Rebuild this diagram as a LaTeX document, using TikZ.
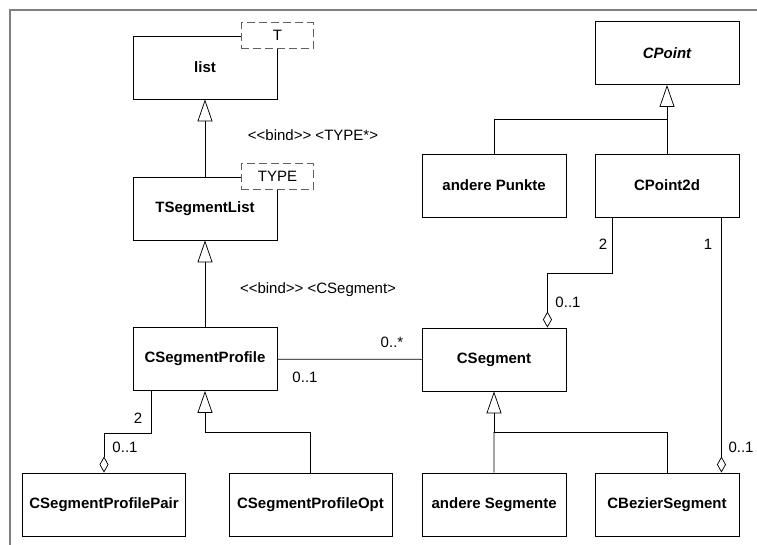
\documentclass[tikz,border=0pt]{standalone}
\usepackage{fontspec}
\setmainfont{Liberation Sans}[Ligatures=TeXOff]
\usepackage{tikz}
\usetikzlibrary{arrows.meta, positioning}

\begin{document}
\begin{tikzpicture}[
  x=1pt, y=-1pt,
  node distance=28pt,
  cls/.style={draw, fill=white, minimum width=144pt, minimum height=63pt,
              align=center, font=\fontsize{15}{18}\selectfont\bfseries, line width=0.9pt},
  wcls/.style={cls, minimum width=163pt},
  tpl/.style={draw=gray!75!black, fill=white, dash pattern=on 8pt off 4pt,
              minimum width=72pt, minimum height=26pt,
              font=\fontsize{15}{18}\selectfont, line width=0.8pt},
  lnk/.style={line width=0.75pt},
  gen/.style={lnk, -{Triangle[open, length=22pt, width=15pt]}},
  agg/.style={lnk, -{Diamond[open, length=16pt, width=9pt]}},
  mult/.style={font=\fontsize{15}{18}\selectfont, inner sep=0pt}
]
\useasboundingbox (0,0) rectangle (757,545);
\draw[gray, line width=1.5pt] (10,545) -- (10,10) -- (757,10);

% template classes
\node[cls]                     (list)   at (205,67.5)  {list};
\node[tpl]                              at (list.north east) {T};
\node[cls]                     (tlist)  at (205,208.5) {TSegmentList};
\node[tpl]                              at (tlist.north east) {TYPE};
\node[cls]                     (prof)   at (205,359)   {CSegmentProfile};
\node[wcls]                    (pair)   at (104,504.5) {CSegmentProfilePair};
\node[wcls]                    (opt)    at (310.5,504.5) {CSegmentProfileOpt};

% points and segments
\node[cls, font=\fontsize{15}{18}\selectfont\bfseries\itshape]
                               (cpoint) at (667,53)    {CPoint};
\node[cls]                     (cp2d)   at (667,185.5) {CPoint2d};
\node[cls, left=of cp2d]       (apkt)                  {andere Punkte};
\node[cls]                     (bez)    at (667,504.5) {CBezierSegment};
\node[cls, left=of bez]        (aseg)                  {andere Segmente};
\node[cls]                     (seg)    at (494,359.5) {CSegment};

\node[mult] at (313,135) {<<bind>> <TYPE*>};
\node[mult] at (318,290) {<<bind>> <CSegment>};

% inheritance
\coordinate (pj) at (667,119);
\coordinate (oj) at (205,432);
\coordinate (sj) at (494,432);
\draw[gen] (tlist.north) -- (list.south);
\draw[gen] (prof.north) -- (tlist.south);
\draw[gen] (opt.north) |- (oj) -- (prof.south);
\draw[gen] (cp2d.north) -- (cpoint.south);
\draw[lnk] (apkt.north) |- (pj);
\draw[gen] (bez.north) |- (sj) -- (seg.south);
\draw[lnk] (aseg.north) -- (sj);

% associations
\draw[lnk] (prof) -- (seg);
\draw[agg] ([xshift=19pt]prof.south west) -- ++(0,42) -| (pair.north);
\draw[agg] ([xshift=18pt]cp2d.south west) -- ++(0,56) -| ([xshift=-19pt]seg.north east);
\draw[agg] ([xshift=-18pt]cp2d.south east) -- ([xshift=-18pt]bez.north east);

\node[mult] at (392,342) {0..*};
\node[mult] at (305,377) {0..1};
\node[mult] at (138,418) {2};
\node[mult] at (125,447) {0..1};
\node[mult] at (603,244) {2};
\node[mult] at (708,244) {1};
\node[mult] at (568,302) {0..1};
\node[mult] at (741,447) {0..1};
\end{tikzpicture}
\end{document}
